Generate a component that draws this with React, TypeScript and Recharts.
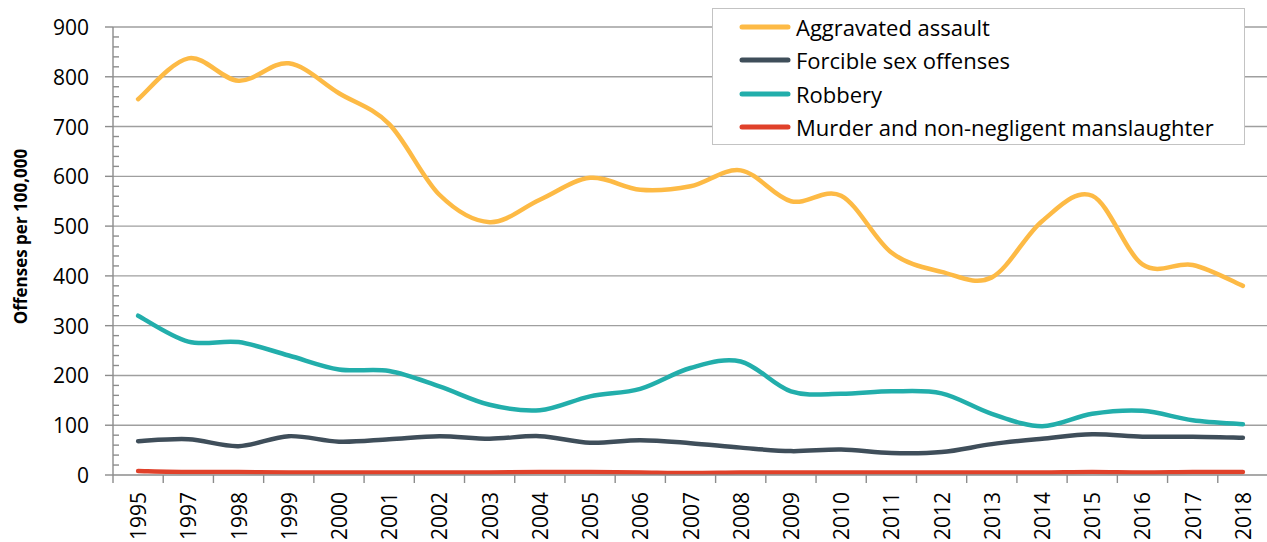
import React from "react";
import { LineChart, Line, XAxis, YAxis, ReferenceLine, Legend } from "recharts";

const years = [
  "1995", "1997", "1998", "1999", "2000", "2001", "2002", "2003", "2004", "2005", "2006", "2007",
  "2008", "2009", "2010", "2011", "2012", "2013", "2014", "2015", "2016", "2017", "2018",
];
const assault = [755, 837, 792, 827, 767, 705, 563, 508, 553, 597, 573, 580, 612, 550, 561, 447, 408, 397, 510, 561, 423, 422, 380];
const sexOffenses = [68, 72, 58, 78, 67, 72, 78, 73, 78, 65, 70, 64, 55, 48, 51, 44, 46, 62, 73, 82, 77, 77, 75];
const robbery = [320, 268, 267, 240, 212, 209, 178, 141, 130, 158, 173, 215, 228, 168, 163, 168, 164, 123, 98, 123, 129, 110, 102];
const murder = [8, 6, 6, 5, 5, 5, 5, 5, 6, 6, 5, 4, 5, 5, 5, 5, 5, 5, 5, 6, 5, 6, 6];

const seriesNames = [
  "Aggravated assault",
  "Forcible sex offenses",
  "Robbery",
  "Murder and non-negligent manslaughter",
];
const majorTicks = [0, 100, 200, 300, 400, 500, 600, 700, 800, 900];

const rows = years.map((year, i) => ({
  i,
  year,
  assault: assault[i],
  sex: sexOffenses[i],
  robbery: robbery[i],
  murder: murder[i],
}));

// year labels sit on whole indexes, tick marks on the half steps between them
const xTicks = Array.from({ length: years.length * 2 + 1 }, (_, k) => k / 2 - 0.5);
// minor ticks every 20
const yTicks = Array.from({ length: 46 }, (_, k) => k * 20);

const axisColor = "#8c8c8c";
const gridColor = "#9f9f9f";

// Excel style smoothing (uniform Catmull-Rom)
const excelSmooth = (context: any) => {
  let pts: number[][] = [];
  return {
    areaStart() {},
    areaEnd() {},
    lineStart() {
      pts = [];
    },
    point(x: number, y: number) {
      pts.push([+x, +y]);
    },
    lineEnd() {
      const n = pts.length;
      if (!n) return;
      context.moveTo(pts[0][0], pts[0][1]);
      for (let k = 0; k < n - 1; k++) {
        const p0 = pts[Math.max(k - 1, 0)];
        const p1 = pts[k];
        const p2 = pts[k + 1];
        const p3 = pts[Math.min(k + 2, n - 1)];
        context.bezierCurveTo(
          p1[0] + (p2[0] - p0[0]) / 6,
          p1[1] + (p2[1] - p0[1]) / 6,
          p2[0] - (p3[0] - p1[0]) / 6,
          p2[1] - (p3[1] - p1[1]) / 6,
          p2[0],
          p2[1]
        );
      }
    },
  };
};

const XTick = ({ x, y, payload }: any) => {
  const v = payload.value;
  if (!Number.isInteger(v)) {
    return <line x1={x} y1={y} x2={x} y2={y + 8} stroke={axisColor} strokeWidth={1.4} />;
  }
  const ty = y + 17;
  return (
    <text
      x={x}
      y={ty}
      transform={`rotate(-90, ${x}, ${ty})`}
      textAnchor="end"
      dominantBaseline="central"
      fontSize={21}
      fill="#000"
    >
      {years[v]}
    </text>
  );
};

const YTick = ({ x, y, payload }: any) => {
  const v = payload.value;
  if (!majorTicks.includes(v)) {
    return <line x1={x} y1={y} x2={x + 6} y2={y} stroke={axisColor} strokeWidth={1.4} />;
  }
  return (
    <g>
      <line x1={x - 8} y1={y} x2={x} y2={y} stroke={axisColor} strokeWidth={1.4} />
      <text x={x - 24} y={y} textAnchor="end" dominantBaseline="central" fontSize={21} fill="#000">
        {v}
      </text>
    </g>
  );
};

const LegendBox = ({ payload }: any) => {
  const items = [...(payload || [])].sort(
    (a: any, b: any) => seriesNames.indexOf(a.value) - seriesNames.indexOf(b.value)
  );
  return (
    <div
      style={{
        width: 531,
        height: 134,
        paddingTop: 1,
        border: "1px solid #c3c3c3",
        background: "#fff",
        boxSizing: "content-box",
      }}
    >
      {items.map((p: any) => (
        <div key={p.value} style={{ display: "flex", alignItems: "center", height: 33.5 }}>
          <svg width={52} height={10} style={{ marginLeft: 26, display: "block" }}>
            <line x1={3} y1={5} x2={49} y2={5} stroke={p.color} strokeWidth={5} strokeLinecap="round" />
          </svg>
          <span style={{ fontSize: 22, marginLeft: 5, lineHeight: 1, color: "#000" }}>{p.value}</span>
        </div>
      ))}
    </div>
  );
};

export default function App() {
  return (
    <div
      style={{
        position: "absolute",
        left: 0,
        top: 0,
        width: 1267,
        height: 542,
        overflow: "hidden",
        background: "#fff",
        fontFamily: "'Open Sans', sans-serif",
      }}
    >
      <LineChart width={1269} height={542} data={rows} margin={{ top: 27, right: 1, bottom: 0, left: 0 }}>
        {majorTicks.slice(1).map((v) => (
          <ReferenceLine key={v} y={v} stroke={gridColor} strokeWidth={1.4} ifOverflow="visible" />
        ))}
        <XAxis
          dataKey="i"
          type="number"
          domain={[-0.5, 22.5]}
          ticks={xTicks}
          interval={0}
          tickSize={0}
          tickMargin={0}
          tick={<XTick />}
          height={67}
          axisLine={{ stroke: axisColor, strokeWidth: 1.4 }}
        />
        <YAxis
          type="number"
          domain={[0, 900]}
          ticks={yTicks}
          interval={0}
          tickSize={0}
          tickMargin={0}
          tick={<YTick />}
          width={113}
          axisLine={{ stroke: axisColor, strokeWidth: 1.4 }}
          label={{
            content: ({ viewBox }: any) => {
              const cx = 20;
              const cy = viewBox.y + viewBox.height / 2 - 14.5;
              return (
                <text
                  x={cx}
                  y={cy}
                  transform={`rotate(-90, ${cx}, ${cy})`}
                  textAnchor="middle"
                  dominantBaseline="central"
                  fontSize={17}
                  fontWeight="bold"
                  fill="#000"
                >
                  Offenses per 100,000
                </text>
              );
            },
          }}
        />
        <Legend
          layout="vertical"
          align="center"
          verticalAlign="middle"
          content={<LegendBox />}
          wrapperStyle={{ left: 712, top: 8, width: "auto" }}
        />
        <Line name={seriesNames[0]} dataKey="assault" type={excelSmooth as any} stroke="#FDBA45" strokeWidth={4.5} dot={false} isAnimationActive={false} strokeLinecap="round" />
        <Line name={seriesNames[1]} dataKey="sex" type={excelSmooth as any} stroke="#3F4E5A" strokeWidth={4.5} dot={false} isAnimationActive={false} strokeLinecap="round" />
        <Line name={seriesNames[2]} dataKey="robbery" type={excelSmooth as any} stroke="#22AEAB" strokeWidth={4.5} dot={false} isAnimationActive={false} strokeLinecap="round" />
        <Line name={seriesNames[3]} dataKey="murder" type={excelSmooth as any} stroke="#E0412A" strokeWidth={4.5} dot={false} isAnimationActive={false} strokeLinecap="round" />
      </LineChart>
    </div>
  );
}
